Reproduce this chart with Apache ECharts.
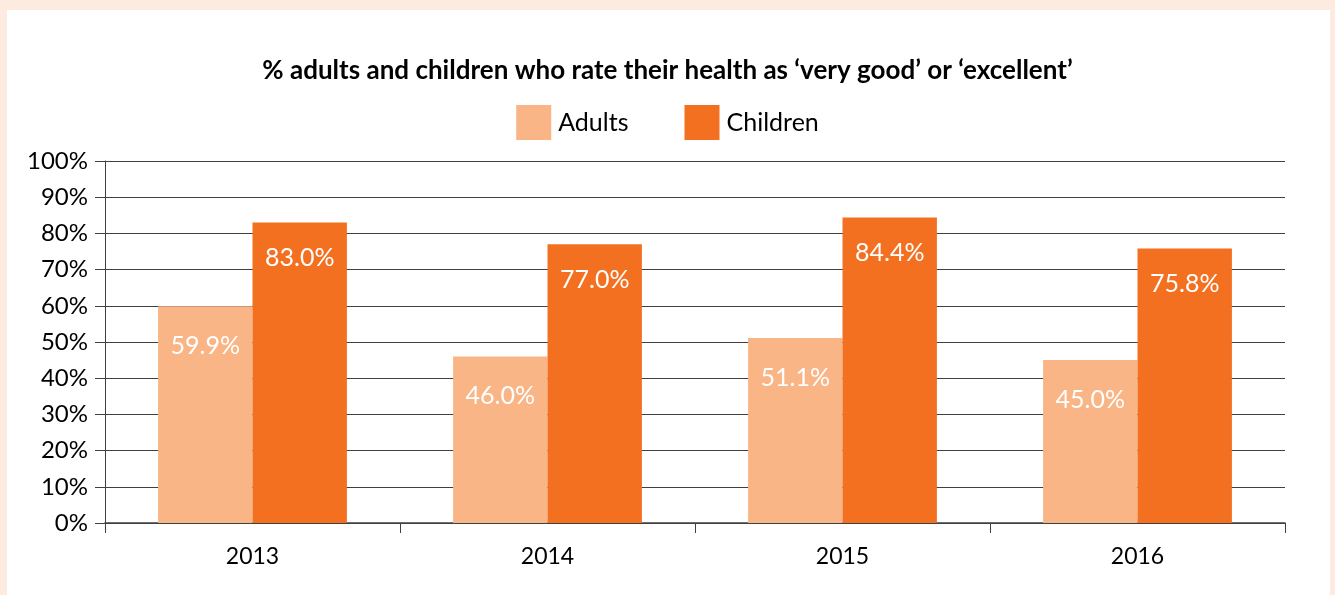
<!DOCTYPE html>
<html>
<head>
<meta charset="UTF-8">
<title>Health rating</title>
<script src="https://cdn.jsdelivr.net/npm/echarts@6/dist/echarts.min.js"></script>
<style>
body {
    padding: 0;
    margin: 0;
    background: #fdebe0;
}
#main {
    width: 1335px;
    height: 595px;
}
</style>
</head>
<body>
<div id="main"></div>
<script>
var years = ['2013', '2014', '2015', '2016'];
var adults = [59.9, 46.0, 51.1, 45.0];
var children = [83.0, 77.0, 84.4, 75.8];

var font = 'Lato, "Open Sans", sans-serif';

var myChart = echarts.init(document.getElementById('main'));
var option = {
    backgroundColor: '#fdebe0',
    textStyle: { fontFamily: font },
    graphic: [
        {
            type: 'rect',
            z: -10,
            shape: { x: 7, y: 10, width: 1323, height: 600 },
            style: { fill: '#ffffff' }
        }
    ],
    title: {
        text: '% adults and children who rate their health as \u2018very good\u2019 or \u2018excellent\u2019',
        left: 'center',
        top: 53,
        textStyle: { fontFamily: font, fontSize: 26, fontWeight: 'bold', color: '#000' }
    },
    legend: {
        top: 100,
        left: 'center',
        itemWidth: 35,
        itemHeight: 35,
        itemGap: 56,
        icon: 'rect',
        textStyle: { fontFamily: font, fontSize: 25, color: '#000', padding: [0, 0, 0, 2] },
        data: ['Adults', 'Children']
    },
    grid: {
        left: 105,
        right: 50,
        top: 161,
        bottom: 72
    },
    xAxis: {
        type: 'category',
        data: years,
        axisLine: { lineStyle: { color: '#404040', width: 1.5 } },
        axisTick: { show: true, length: 10, alignWithLabel: false, lineStyle: { color: '#404040' } },
        axisLabel: { fontFamily: font, fontSize: 23, color: '#000', margin: 22 }
    },
    yAxis: {
        type: 'value',
        min: 0,
        max: 100,
        interval: 10,
        axisLine: { show: true, lineStyle: { color: '#404040' } },
        axisTick: { show: true, length: 10, lineStyle: { color: '#404040' } },
        axisLabel: { fontFamily: font, fontSize: 24, color: '#000', margin: 17, formatter: '{value}%' },
        splitLine: { lineStyle: { color: '#404040', width: 1.2 } }
    },
    series: [
        {
            name: 'Adults',
            type: 'bar',
            data: adults,
            barGap: 0,
            barCategoryGap: '36%',
            itemStyle: { color: '#f9b586' },
            label: {
                show: true,
                position: 'insideTop',
                distance: 27,
                fontFamily: font,
                fontSize: 25,
                color: '#fff',
                formatter: function (p) { return p.value.toFixed(1) + '%'; }
            }
        },
        {
            name: 'Children',
            type: 'bar',
            data: children,
            barGap: 0,
            barCategoryGap: '36%',
            itemStyle: { color: '#f37021' },
            label: {
                show: true,
                position: 'insideTop',
                distance: 23,
                fontFamily: font,
                fontSize: 25,
                color: '#fff',
                formatter: function (p) { return p.value.toFixed(1) + '%'; }
            }
        }
    ]
};
myChart.setOption(option);
</script>
</body>
</html>
